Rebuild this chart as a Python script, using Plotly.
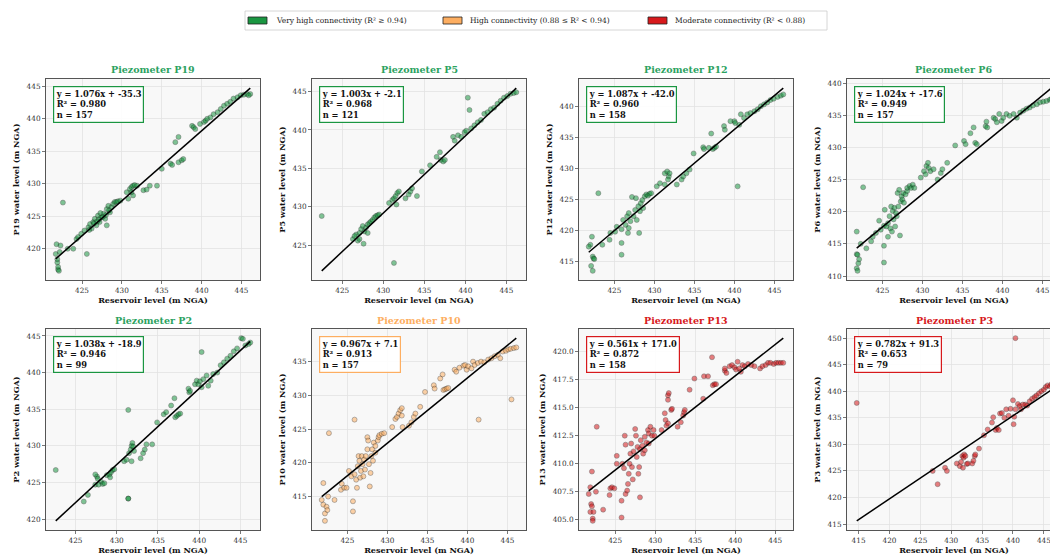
import plotly.graph_objects as go

W, H = 1064, 559          # figure is a little wider than the 1050 window, as the reference is cropped
FONT = "DejaVu Serif"

# ---------------- data ----------------
names = ["P19", "P5", "P12", "P6", "P2", "P10", "P13", "P3"]
slopes = [1.076, 1.003, 1.087, 1.024, 1.038, 0.967, 0.561, 0.782]
intercepts = [-35.3, -2.1, -42.0, -17.6, -18.9, 7.1, 171.0, 91.3]
r2_values = [0.980, 0.968, 0.960, 0.949, 0.946, 0.913, 0.872, 0.653]
n_values = [157, 121, 158, 157, 99, 157, 158, 79]
categories = ["very_high", "very_high", "very_high", "very_high", "very_high",
              "high", "moderate", "moderate"]

legend_labels = ["Very high connectivity (R² ≥ 0.94)",
                 "High connectivity (0.88 ≤ R² < 0.94)",
                 "Moderate connectivity (R² < 0.88)"]
legend_keys = ["very_high", "high", "moderate"]

p19_x = [421.7, 421.8, 421.9, 422.0, 421.9, 422.0, 422.1, 422.2, 422.3, 422.6, 423.2, 423.9,
         424.3, 424.5, 424.9, 425.6, 425.3, 425.8, 426.0, 426.2, 426.4, 426.6, 426.8, 427.0,
         427.2, 427.4, 427.7, 427.9, 428.1, 428.1, 428.3, 428.5, 428.7, 428.9, 429.1, 429.3,
         429.5, 429.8, 430.6, 430.8, 431.0, 431.2, 431.4, 431.6, 431.9, 431.4, 431.2, 432.7,
         433.1, 433.5, 434.4, 435.0, 436.1, 436.3, 436.7, 437.1, 437.1, 437.5, 437.7, 438.8,
         439.0, 439.2, 439.8, 440.3, 440.5, 440.7, 441.1, 441.5, 442.0, 442.4, 442.8, 443.2,
         443.6, 444.0, 444.5, 444.9, 445.3, 445.7, 446.1, 445.9, 426.5, 427.1, 427.6, 428.0,
         428.4, 426.9, 425.9, 427.3]
p19_y = [419.2, 420.7, 417.9, 416.8, 418.4, 417.2, 416.6, 419.5, 420.5, 427.1, 420.0, 420.0,
         421.5, 421.8, 422.3, 419.2, 422.8, 423.3, 423.8, 423.1, 424.1, 424.6, 423.6, 425.1,
         424.1, 424.8, 425.4, 424.6, 426.1, 423.6, 426.6, 425.6, 426.4, 426.9, 427.2, 427.2,
         427.3, 427.4, 428.7, 427.7, 429.2, 429.5, 429.7, 429.8, 429.7, 428.2, 428.7, 429.0,
         429.1, 429.7, 429.7, 432.3, 433.1, 432.9, 436.4, 437.2, 433.3, 433.6, 433.8, 438.9,
         438.7, 438.4, 439.2, 439.5, 439.7, 440.0, 440.2, 440.7, 441.0, 441.5, 442.0, 442.3,
         442.6, 443.1, 443.3, 443.6, 443.7, 443.8, 443.8, 443.6, 423.9, 424.5, 424.9, 425.2,
         425.9, 424.2, 422.9, 425.5]

p5_x = [422.5, 426.7, 426.3, 426.5, 426.9, 427.1, 427.3, 427.5, 427.6, 427.7, 427.9, 428.1,
        428.3, 428.5, 428.7, 428.9, 429.1, 429.3, 429.5, 428.1, 427.1, 430.7, 431.1, 431.3,
        431.5, 431.7, 431.9, 431.6, 431.3, 432.7, 433.1, 433.3, 433.5, 434.1, 434.7, 435.7,
        436.5, 436.9, 437.0, 437.3, 437.5, 438.5, 438.7, 439.1, 439.5, 439.9, 440.1, 440.3,
        440.5, 440.7, 441.1, 441.5, 441.9, 442.3, 442.7, 443.1, 443.5, 443.9, 444.3, 444.7,
        445.1, 445.5, 445.9, 446.2]
p5_y = [428.8, 426.4, 425.8, 426.2, 425.6, 426.6, 427.1, 427.5, 425.2, 426.8, 427.3, 427.7,
        427.9, 428.1, 428.3, 428.6, 428.8, 428.9, 429.0, 426.6, 425.8, 430.5, 430.9, 431.1,
        431.4, 431.8, 432.0, 430.3, 422.7, 431.1, 431.6, 432.0, 432.4, 431.4, 434.6, 435.4,
        436.5, 437.1, 436.1, 435.9, 436.1, 439.1, 438.6, 439.3, 439.1, 439.7, 439.9, 444.2,
        442.6, 440.2, 440.6, 441.0, 441.3, 442.1, 442.3, 442.7, 442.9, 443.4, 443.8, 444.2,
        444.4, 444.7, 444.8, 444.9]

p12_x = [422.0, 422.2, 422.3, 422.4, 422.1, 422.3, 422.5, 421.8, 423.0, 423.5, 424.4, 424.5,
         425.1, 425.3, 425.9, 425.9, 425.9, 426.1, 426.4, 426.6, 426.7, 426.8, 426.8, 427.0,
         427.2, 427.4, 427.6, 427.7, 427.8, 428.0, 428.1, 428.2, 428.3, 428.5, 428.6, 428.8,
         429.0, 429.2, 429.4, 429.6, 430.3, 430.7, 431.3, 431.3, 431.6, 431.8, 431.9, 431.7,
         432.8, 433.4, 433.6, 434.0, 434.4, 434.9, 436.1, 436.2, 436.8, 437.1, 437.3, 437.5,
         437.7, 438.7, 438.8, 439.5, 440.0, 440.1, 440.4, 440.6, 440.8, 441.2, 441.6, 442.0,
         442.5, 442.9, 443.3, 443.7, 444.1, 444.5, 444.9, 445.4, 445.8, 446.1]
p12_y = [417.7, 419.0, 415.8, 415.5, 414.3, 413.5, 415.4, 417.4, 426.0, 417.7, 418.5, 419.6,
         419.8, 420.6, 416.1, 418.0, 420.2, 421.7, 420.9, 422.3, 419.6, 422.8, 420.4, 421.5,
         425.4, 422.3, 423.3, 425.2, 421.7, 423.9, 419.6, 423.1, 424.4, 424.9, 423.6, 425.5,
         425.8, 425.6, 425.9, 426.0, 427.1, 427.6, 427.4, 429.2, 429.5, 428.7, 429.2, 428.2,
         427.4, 428.2, 428.7, 429.2, 429.8, 432.4, 433.4, 433.1, 433.3, 435.6, 433.1, 433.3,
         433.5, 436.8, 436.2, 437.6, 437.6, 437.3, 427.1, 437.0, 438.7, 438.1, 438.7, 438.9,
         439.2, 439.5, 440.0, 440.3, 440.6, 441.0, 441.2, 441.5, 441.7, 441.9]

p6_x = [421.8, 421.8, 421.9, 422.0, 421.8, 421.9, 422.1, 422.3, 422.6, 423.0, 423.6, 423.8,
        424.2, 424.6, 424.8, 425.2, 425.2, 425.2, 425.3, 425.5, 425.7, 425.7, 425.9, 426.0,
        426.1, 426.2, 426.3, 426.4, 426.5, 426.6, 426.7, 426.8, 426.9, 427.0, 427.1, 427.2,
        427.3, 427.4, 427.5, 427.6, 427.7, 427.9, 428.1, 428.1, 428.4, 428.6, 428.8, 429.0,
        429.8, 430.2, 430.4, 430.5, 430.7, 430.8, 431.0, 431.4, 431.9, 432.3, 432.5, 433.1,
        434.1, 435.2, 435.4, 436.0, 436.4, 436.6, 436.8, 437.9, 438.0, 438.1, 438.9, 439.1,
        439.3, 439.6, 439.9, 440.1, 440.5, 440.9, 441.4, 441.8, 442.2, 442.6, 443.0, 443.4,
        443.8, 444.3, 444.7, 445.1, 445.5, 445.9, 446.1]
p6_y = [416.9, 413.4, 413.3, 412.0, 411.2, 410.8, 412.6, 415.0, 423.8, 414.3, 415.4, 416.1,
        416.7, 418.6, 417.2, 417.8, 412.1, 414.7, 420.3, 417.7, 418.2, 416.1, 419.3, 417.4,
        420.8, 416.9, 420.1, 418.8, 420.6, 417.7, 419.8, 419.3, 422.9, 420.8, 423.4, 416.3,
        421.6, 422.4, 421.9, 422.9, 421.4, 422.7, 423.2, 423.7, 424.0, 423.7, 424.2, 423.7,
        425.3, 426.3, 425.8, 427.1, 427.6, 426.8, 426.3, 426.6, 425.0, 426.0, 426.6, 427.6,
        430.3, 431.0, 430.5, 432.2, 433.1, 430.7, 430.5, 433.3, 434.0, 433.1, 434.6, 434.4,
        433.9, 435.2, 434.1, 434.6, 435.2, 434.9, 435.2, 434.6, 435.4, 435.7, 436.0, 436.2,
        436.5, 436.7, 437.0, 437.1, 437.2, 437.4, 437.5]

p2_x = [422.6, 426.0, 426.5, 427.4, 427.6, 427.7, 428.1, 428.3, 427.4, 427.8, 428.5, 428.8,
        429.1, 429.2, 429.3, 429.5, 429.7, 430.9, 431.2, 431.4, 431.4, 431.4, 431.5, 431.7,
        431.8, 431.9, 431.8, 432.0, 432.1, 432.9, 433.2, 433.4, 433.6, 434.3, 434.9, 435.7,
        436.0, 436.6, 437.0, 437.1, 437.3, 437.5, 437.7, 438.7, 438.8, 438.9, 439.5, 439.7,
        439.9, 440.1, 440.3, 440.3, 440.5, 440.9, 441.1, 441.4, 441.7, 442.2, 442.6, 443.0,
        443.4, 443.8, 444.2, 444.6, 445.1, 445.3, 445.6, 446.0, 446.2]
p2_y = [426.7, 422.4, 423.3, 424.7, 425.8, 425.5, 425.1, 424.8, 426.1, 424.7, 424.9, 426.0,
        426.1, 425.7, 426.4, 426.7, 426.8, 427.9, 428.1, 434.9, 422.8, 422.8, 429.0, 429.5,
        430.0, 430.4, 427.9, 429.9, 429.3, 428.3, 429.0, 429.5, 430.2, 430.2, 433.2, 434.3,
        434.6, 435.5, 436.5, 433.9, 434.1, 434.3, 434.4, 437.8, 437.3, 437.5, 438.4, 438.9,
        438.4, 438.8, 442.8, 438.0, 439.1, 439.6, 438.2, 438.9, 439.8, 440.0, 441.0, 441.4,
        441.9, 442.3, 442.9, 443.3, 444.7, 444.6, 443.7, 443.9, 444.1]

p10_x = [421.8, 422.0, 422.0, 422.2, 422.2, 422.4, 422.5, 422.6, 422.7, 423.4, 424.2, 424.3,
         424.6, 424.9, 425.2, 425.5, 425.7, 425.7, 425.9, 425.9, 426.1, 426.2, 426.3, 426.4,
         426.5, 426.6, 426.7, 426.8, 426.9, 427.0, 427.1, 427.2, 427.3, 427.5, 427.5, 427.6,
         427.7, 427.8, 427.9, 428.0, 428.1, 428.2, 428.3, 428.5, 428.5, 428.8, 428.9, 429.0,
         429.3, 429.6, 430.6, 431.0, 431.2, 431.4, 431.6, 431.8, 431.8, 431.9, 432.7, 433.0,
         433.3, 433.5, 434.1, 434.7, 435.8, 435.9, 436.6, 436.9, 437.0, 437.2, 437.4, 437.6,
         438.4, 438.6, 439.0, 439.5, 439.7, 439.9, 440.1, 440.5, 440.7, 440.9, 441.3, 441.4,
         441.7, 442.1, 442.6, 443.0, 443.4, 443.8, 444.1, 444.4, 444.8, 445.1, 445.4, 445.8,
         445.5, 446.1]
p10_y = [414.5, 417.0, 413.8, 412.5, 411.4, 413.5, 413.0, 415.0, 424.4, 414.5, 416.0, 416.9,
         416.3, 416.3, 418.8, 418.0, 414.3, 412.8, 426.4, 418.3, 417.5, 416.3, 419.5, 421.0,
         420.3, 417.8, 418.8, 421.0, 419.8, 418.0, 420.5, 419.0, 421.0, 422.0, 423.8, 423.3,
         419.8, 416.5, 418.5, 421.0, 422.0, 420.3, 423.0, 421.5, 422.5, 423.3, 423.8, 424.1,
         424.3, 424.4, 425.3, 426.5, 426.8, 427.3, 427.8, 428.1, 427.0, 425.3, 425.5, 426.0,
         426.8, 427.3, 428.3, 430.5, 431.5, 431.0, 432.5, 433.1, 430.8, 430.9, 431.0, 431.1,
         433.8, 433.5, 434.1, 434.4, 434.5, 433.8, 434.3, 434.0, 435.0, 434.5, 434.8, 426.4,
         435.0, 434.9, 435.3, 435.5, 435.8, 436.0, 435.5, 436.5, 436.6, 436.8, 436.9, 437.0,
         429.4, 437.1]

p13_x = [421.7, 421.9, 422.1, 422.0, 422.1, 421.9, 422.3, 422.2, 422.2, 422.6, 422.7, 423.5,
         424.3, 424.4, 424.6, 424.9, 425.2, 425.2, 425.8, 425.8, 425.9, 426.1, 426.2, 426.3,
         426.3, 426.5, 426.6, 426.7, 426.8, 426.9, 427.0, 427.1, 427.2, 427.3, 427.5, 427.6,
         427.7, 427.8, 427.9, 428.0, 428.1, 428.1, 428.2, 428.4, 428.5, 428.7, 428.7, 428.9,
         429.1, 429.2, 429.2, 429.4, 429.6, 429.8, 429.9, 430.8, 431.2, 431.3, 431.4, 431.6,
         431.6, 431.7, 431.6, 432.0, 432.1, 432.8, 433.2, 433.5, 433.6, 433.7, 434.3, 434.9,
         436.0, 436.1, 436.6, 437.1, 437.2, 437.4, 437.6, 438.7, 438.7, 438.9, 439.3, 439.6,
         439.9, 440.1, 440.3, 440.5, 440.7, 440.9, 441.2, 441.6, 442.0, 442.4, 443.1, 443.4,
         443.8, 444.1, 444.4, 444.8, 445.1, 445.4, 445.7, 446.0]
p13_y = [407.3, 407.9, 409.3, 406.4, 406.2, 405.7, 405.7, 405.1, 404.9, 407.5, 413.3, 405.9,
         407.2, 407.8, 407.9, 407.8, 410.0, 410.7, 405.2, 406.7, 410.0, 409.6, 412.5, 411.7,
         407.3, 407.6, 408.2, 409.1, 410.0, 410.9, 411.8, 409.7, 408.6, 411.1, 413.1, 412.5,
         410.6, 411.5, 409.1, 409.7, 407.0, 411.3, 412.1, 411.6, 410.9, 412.4, 411.2, 411.9,
         413.0, 412.7, 411.8, 413.3, 412.5, 413.0, 412.5, 413.0, 414.5, 413.9, 413.4, 415.7,
         416.1, 416.3, 413.6, 414.8, 414.9, 413.3, 413.7, 414.3, 414.6, 414.8, 416.6, 417.6,
         415.8, 417.8, 417.8, 419.5, 417.0, 417.1, 417.1, 418.3, 418.5, 418.1, 418.7, 418.8,
         418.6, 418.4, 419.1, 418.5, 418.2, 418.8, 418.7, 418.9, 418.8, 418.7, 418.5, 418.7,
         418.8, 419.0, 419.0, 418.9, 419.0, 419.0, 419.0, 419.0]

p3_x = [414.7, 427.0, 427.8, 429.0, 429.3, 430.9, 431.4, 431.6, 431.8, 431.9, 432.0, 432.1,
        432.3, 432.5, 432.7, 433.4, 433.6, 433.8, 433.9, 434.5, 435.3, 435.9, 436.6, 436.8,
        437.2, 437.4, 437.7, 437.9, 438.2, 438.6, 438.9, 439.3, 439.6, 440.0, 440.1, 440.2,
        440.4, 440.4, 440.8, 441.1, 441.3, 441.6, 442.0, 442.3, 442.7, 443.1, 443.5, 443.8,
        444.2, 444.6, 445.0, 445.3, 445.6, 446.0, 446.2]
p3_y = [437.8, 425.0, 422.5, 425.6, 425.0, 426.4, 425.9, 426.7, 427.8, 425.6, 427.5, 428.1,
        427.8, 426.3, 426.4, 426.4, 426.9, 427.8, 428.1, 429.2, 431.7, 432.8, 434.1, 435.1,
        432.7, 433.1, 432.7, 435.8, 435.9, 435.0, 436.6, 435.4, 436.7, 438.3, 433.8, 435.2,
        436.6, 450.0, 437.6, 437.2, 436.6, 437.5, 437.5, 437.3, 438.1, 438.6, 438.9, 439.2,
        439.6, 440.0, 440.3, 440.8, 441.1, 440.9, 441.3]

panel_x = [p19_x, p5_x, p12_x, p6_x, p2_x, p10_x, p13_x, p3_x]
panel_y = [p19_y, p5_y, p12_y, p6_y, p2_y, p10_y, p13_y, p3_y]

# ---------------- styling ----------------
cat_colors = {"very_high": "#1a9641", "high": "#fdae61", "moderate": "#d7191c"}
title_colors = {"very_high": "#2ca25f", "high": "#fdae61", "moderate": "#d7191c"}
col_left = [46, 312, 579, 847]
row_top = [79, 329]
PW, PH = 214, 201
FRAME = "#555555"
GRID = "#e2e2e2"

fig = go.Figure()
layout = {}
annotations = []
shapes = []

for i, name in enumerate(names):
    r, c = divmod(i, 4)
    k = "" if i == 0 else str(i + 1)
    xs, ys = panel_x[i], panel_y[i]
    color = cat_colors[categories[i]]
    xmin, xmax = min(xs), max(xs)
    lx = [xmin, xmax]
    ly = [slopes[i] * v + intercepts[i] for v in lx]

    fig.add_trace(go.Scatter(
        x=xs, y=ys, mode="markers", xaxis="x" + k, yaxis="y" + k,
        marker=dict(size=5, color=color, opacity=0.55,
                    line=dict(color="black", width=0.5)),
        showlegend=False, hoverinfo="skip"))
    fig.add_trace(go.Scatter(
        x=lx, y=ly, mode="lines", xaxis="x" + k, yaxis="y" + k,
        line=dict(color="black", width=1.5), showlegend=False, hoverinfo="skip"))

    ylo = min(min(ys), min(ly))
    yhi = max(max(ys), max(ly))
    ypad = 0.05 * (yhi - ylo)
    xpad = 0.05 * (xmax - xmin)
    left = col_left[c]
    right = left + PW
    top = row_top[r]

    common = dict(showgrid=True, gridcolor=GRID, gridwidth=0.8, zeroline=False,
                  showline=True, linecolor=FRAME, linewidth=1, mirror=True,
                  ticks="outside", ticklen=3, tickwidth=0.8, tickcolor=FRAME,
                  automargin=False, ticklabeloverflow="allow",
                  tickfont=dict(family=FONT, size=7.3, color="#333333"))

    layout["xaxis" + k] = dict(
        common, domain=[left / W, right / W], anchor="y" + k,
        range=[xmin - xpad, xmax + xpad], tick0=0, dtick=5,
        title=dict(text="<b>Reservoir level (m NGA)</b>", standoff=3,
                   font=dict(family=FONT, size=8.1, color="#111111")))
    ydtick = 2.5 if name == "P13" else 5
    layout["yaxis" + k] = dict(
        common, domain=[(H - top - PH) / H, (H - top) / H], anchor="x" + k,
        range=[ylo - ypad, yhi + ypad], tick0=0, dtick=ydtick,
        tickformat=".1f" if name == "P13" else "d",
        title=dict(text=f"<b>{name} water level (m NGA)</b>", standoff=5,
                   font=dict(family=FONT, size=8.1, color="#111111")))

    # stats box
    annotations.append(dict(
        xref=f"x{k} domain", yref=f"y{k} domain",
        x=7 / PW, y=1 - 7 / PH, xanchor="left", yanchor="top",
        align="left", showarrow=False,
        text=(f"<b>y = {slopes[i]:.3f}x + {intercepts[i]:.1f}</b><br>"
              f"<b>R² = {r2_values[i]:.3f}</b><br><b>n = {n_values[i]}</b>"),
        font=dict(family=FONT, size=8.3, color="#111111"),
        bgcolor="rgba(255,255,255,0.92)", bordercolor=color, borderwidth=1.2,
        borderpad=1.5))
    # panel title
    annotations.append(dict(
        xref="paper", yref="paper", x=(left + PW / 2) / W,
        y=1 - (top - 9) / H, xanchor="center", yanchor="middle", showarrow=False,
        text=f"<b>Piezometer {name}</b>",
        font=dict(family=FONT, size=9.5, color=title_colors[categories[i]])))

# ---------------- legend (figure-level) ----------------
def px(xp):
    return xp / W

def py(yp):
    return 1 - yp / H

shapes.append(dict(type="rect", xref="paper", yref="paper",
                   x0=px(245), x1=px(827), y0=py(30), y1=py(11),
                   line=dict(color="#cccccc", width=0.8), fillcolor="white", layer="above"))
patch_x = [248, 443, 648]
text_x = [274, 468, 673]
for j, key in enumerate(legend_keys):
    shapes.append(dict(type="rect", xref="paper", yref="paper",
                       x0=px(patch_x[j]), x1=px(patch_x[j] + 19),
                       y0=py(24), y1=py(17),
                       line=dict(color="#222222", width=0.8),
                       fillcolor=cat_colors[key], layer="above"))
    annotations.append(dict(xref="paper", yref="paper", x=px(text_x[j]), y=py(20.5),
                            xanchor="left", yanchor="middle", showarrow=False,
                            text=legend_labels[j],
                            font=dict(family=FONT, size=7.5, color="#222222")))

fig.update_layout(
    width=W, height=H, margin=dict(l=0, r=0, t=0, b=0),
    paper_bgcolor="white", plot_bgcolor="#f8f8f8",
    annotations=annotations, shapes=shapes, hovermode=False,
    font=dict(family=FONT), **layout)

fig.write_html(
    "out.html",
    config={"displayModeBar": False, "staticPlot": True},
    post_script="document.body.style.margin='0';document.body.style.overflow='hidden';")
